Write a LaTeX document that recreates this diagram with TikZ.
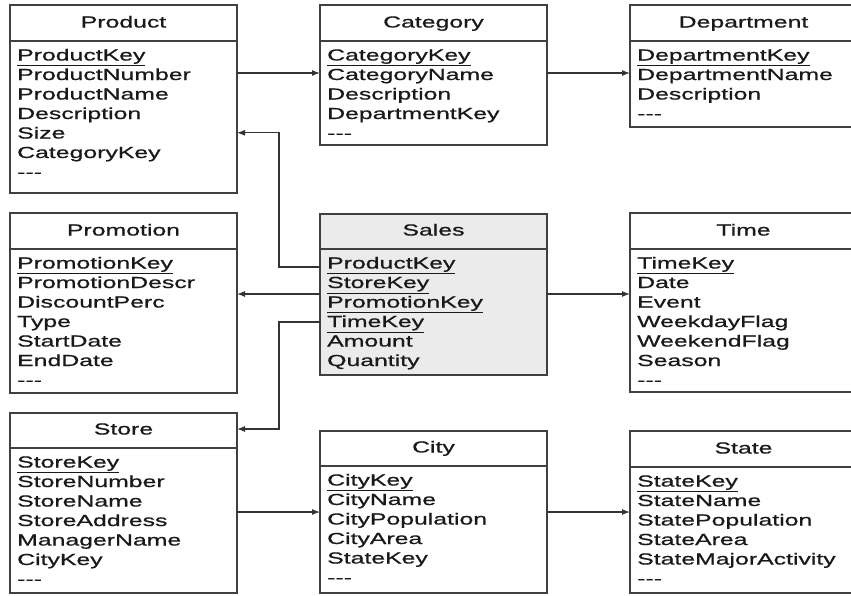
\documentclass[tikz,border=0pt]{standalone}
\usepackage{fontspec}
\setmainfont[FakeStretch=1.55,FakeBold=0.8]{Liberation Sans}
\usetikzlibrary{arrows.meta}
\newcommand{\etc}{-{}-{}-}
\newcommand{\key}[1]{\underline{#1}}

\begin{document}
\begin{tikzpicture}[x=1pt,y=-1pt,
	tbl/.style={draw=black!75, line width=1.4pt, minimum width=227pt, anchor=north west, inner sep=0pt, outer sep=0pt},
	split/.style={draw=black!75, line width=1.4pt},
	title/.style={anchor=base, inner sep=0pt, font=\fontsize{16}{19.5}\selectfont, text=black!90},
	row/.style={anchor=base west, inner sep=0pt, font=\fontsize{16}{19.5}\selectfont, text=black!90},
	link/.style={draw=black!80, line width=1.1pt, -{Latex[length=8pt,width=6pt]}}]
	\useasboundingbox (0,0) rectangle (851,595);
	%
	% top row
	\node[tbl, minimum height=188pt] (product) at (10,5) {};
	\draw[split] (10,41) -- (237,41);
	\node[title] (product-t) at (123.5,27.5) {Product};
	\foreach \r [count=\i] in {\key{ProductKey}, ProductNumber, ProductName, Description, Size, CategoryKey, \etc}
		\node[row] (product-\i) at (17,41+19.5*\i) {\r};
	%
	\node[tbl, minimum height=140pt] (category) at (320,5) {};
	\draw[split] (320,41) -- (547,41);
	\node[title] (category-t) at (433.5,27.5) {Category};
	\foreach \r [count=\i] in {\key{CategoryKey}, CategoryName, Description, DepartmentKey, \etc}
		\node[row] (category-\i) at (327,41+19.5*\i) {\r};
	%
	\node[tbl, minimum height=122pt] (department) at (630,5) {};
	\draw[split] (630,41) -- (857,41);
	\node[title] (department-t) at (743.5,27.5) {Department};
	\foreach \r [count=\i] in {\key{DepartmentKey}, DepartmentName, Description, \etc}
		\node[row] (department-\i) at (637,41+19.5*\i) {\r};
	%
	% middle row
	\node[tbl, minimum height=180pt] (promotion) at (10,213) {};
	\draw[split] (10,249) -- (237,249);
	\node[title] (promotion-t) at (123.5,235.5) {Promotion};
	\foreach \r [count=\i] in {\key{PromotionKey}, PromotionDescr, DiscountPerc, Type, StartDate, EndDate, \etc}
		\node[row] (promotion-\i) at (17,249+19.5*\i) {\r};
	%
	\node[tbl, fill=black!8, minimum height=161pt] (sales) at (320,214) {};
	\draw[split] (320,249) -- (547,249);
	\node[title] (sales-t) at (433.5,235.5) {Sales};
	\foreach \r [count=\i] in {\key{ProductKey}, \key{StoreKey}, \key{PromotionKey}, \key{TimeKey}, Amount, Quantity}
		\node[row] (sales-\i) at (327,249+19.5*\i) {\r};
	%
	\node[tbl, minimum height=179pt] (time) at (630,213) {};
	\draw[split] (630,249) -- (857,249);
	\node[title] (time-t) at (743.5,235.5) {Time};
	\foreach \r [count=\i] in {\key{TimeKey}, Date, Event, WeekdayFlag, WeekendFlag, Season, \etc}
		\node[row] (time-\i) at (637,249+19.5*\i) {\r};
	%
	% bottom row
	\node[tbl, minimum height=180pt] (store) at (10,413) {};
	\draw[split] (10,448) -- (237,448);
	\node[title] (store-t) at (123.5,434.5) {Store};
	\foreach \r [count=\i] in {\key{StoreKey}, StoreNumber, StoreName, StoreAddress, ManagerName, CityKey, \etc}
		\node[row] (store-\i) at (17,448+19.5*\i) {\r};
	%
	\node[tbl, minimum height=162pt] (city) at (320,431) {};
	\draw[split] (320,466) -- (547,466);
	\node[title] (city-t) at (433.5,452.5) {City};
	\foreach \r [count=\i] in {\key{CityKey}, CityName, CityPopulation, CityArea, StateKey, \etc}
		\node[row] (city-\i) at (327,466+19.5*\i) {\r};
	%
	\node[tbl, minimum height=162pt] (state) at (630,431) {};
	\draw[split] (630,467) -- (857,467);
	\node[title] (state-t) at (743.5,453.5) {State};
	\foreach \r [count=\i] in {\key{StateKey}, StateName, StatePopulation, StateArea, StateMajorActivity, \etc}
		\node[row] (state-\i) at (637,467+19.5*\i) {\r};
	%
	% links
	\coordinate (lv-top) at (0,73);
	\coordinate (lv-pk) at (279,267);
	\coordinate (lv-mid) at (0,294);
	\coordinate (lv-tk) at (279,322);
	\coordinate (lv-bot) at (0,512);
	\draw[link] (product.east |- lv-top) -- (category.west |- lv-top);
	\draw[link] (category.east |- lv-top) -- (department.west |- lv-top);
	\draw[link] (sales.west |- lv-pk) -- (lv-pk) |- (product.east |- product-5);
	\draw[link] (sales.west |- lv-mid) -- (promotion.east |- lv-mid);
	\draw[link] (sales.east |- lv-mid) -- (time.west |- lv-mid);
	\draw[link] (sales.west |- lv-tk) -- (lv-tk) |- (store.east |- store-t);
	\draw[link] (store.east |- lv-bot) -- (city.west |- lv-bot);
	\draw[link] (city.east |- lv-bot) -- (state.west |- lv-bot);
\end{tikzpicture}
\end{document}
